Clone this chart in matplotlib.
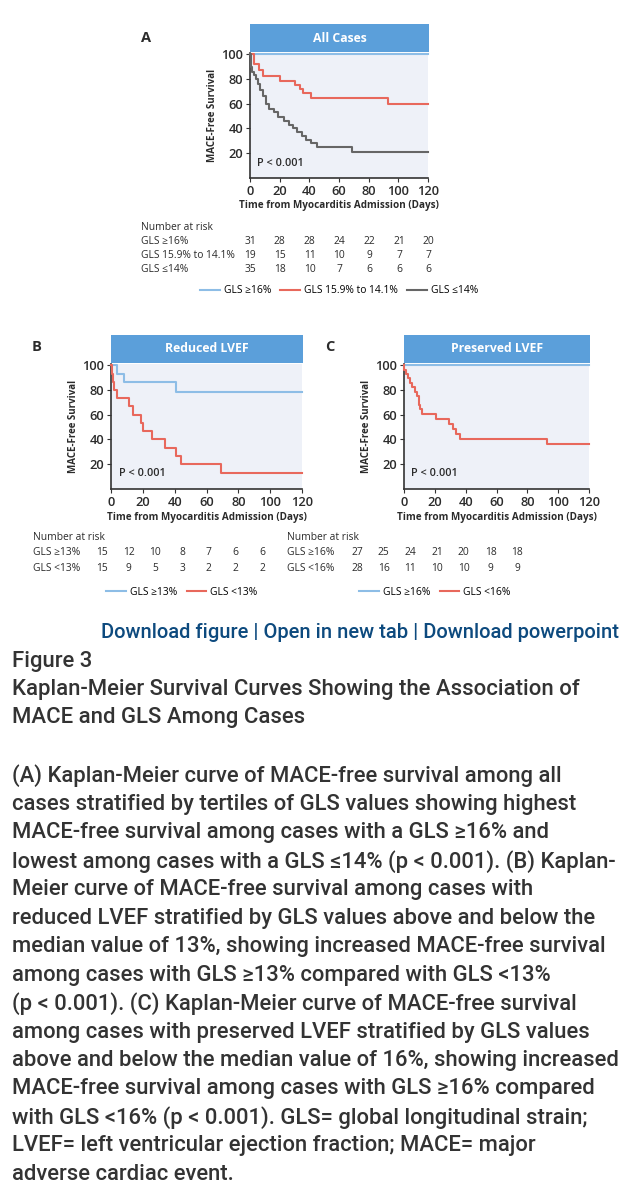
import matplotlib
matplotlib.use("Agg")
import matplotlib.pyplot as plt
from matplotlib.lines import Line2D

# ---- data ----
days_ticks = [0, 20, 40, 60, 80, 100, 120]
surv_ticks = [20, 40, 60, 80, 100]

# panel A: all cases, tertiles of GLS
a_blue_t = []
a_blue_s = []
a_red_t = [3, 6, 9, 20, 30.5, 33.5, 36, 41, 93]
a_red_s = [92, 87, 82.5, 78, 75, 72, 68.5, 65, 60]
a_gray_t = [0.5, 1.5, 2.5, 4, 5.5, 7, 9, 11, 13, 16, 19, 23, 26, 29, 32, 35, 38, 41, 45, 69]
a_gray_s = [90, 86, 83, 80, 76, 71, 66, 60, 56, 53, 49, 46, 43, 40, 37, 34, 31, 28, 25, 21]
a_risk_labels = ["GLS \u226516%", "GLS 15.9% to 14.1%", "GLS \u226414%"]
a_risk = [[31, 28, 28, 24, 22, 21, 20],
          [19, 15, 11, 10, 9, 7, 7],
          [35, 18, 10, 7, 6, 6, 6]]

# panel B: reduced LVEF
b_blue_t = [4, 8, 41]
b_blue_s = [93.3, 86.7, 78]
b_red_t = [0.5, 1, 2, 4, 11, 14, 19, 20, 26, 34, 41, 44, 69]
b_red_s = [93.3, 86.7, 80, 73.3, 66.7, 60, 53.3, 46.7, 40, 33.3, 26.7, 20, 13.3]
b_risk_labels = ["GLS \u226513%", "GLS <13%"]
b_risk = [[15, 12, 10, 8, 7, 6, 6],
          [15, 9, 5, 3, 2, 2, 2]]

# panel C: preserved LVEF
c_blue_t = []
c_blue_s = []
c_red_t = [0.3, 1, 2.5, 4, 5.5, 7, 8.5, 9.5, 10, 10.5, 11.5, 21, 29.5, 31.5, 34, 36, 93]
c_red_s = [96.4, 92.9, 89.3, 85.7, 82.1, 78.6, 75, 71.4, 67.9, 64.3, 60.7, 56.9, 52.8, 48.8, 44.7, 40.7, 36.6]
c_risk_labels = ["GLS \u226516%", "GLS <16%"]
c_risk = [[27, 25, 24, 21, 20, 18, 18],
          [28, 16, 11, 10, 10, 9, 9]]

BLUE = "#8dbde6"
RED = "#e8685c"
GRAY = "#666666"
HEAD = "#5b9fda"
BG = "#eef1f8"
TXT = "#2b2b2b"
FIGFONT = ["Open Sans", "DejaVu Sans"]
WEBFONT = ["Roboto", "DejaVu Sans"]
SMALL = 7.4

W, H = 630, 1200
fig = plt.figure(figsize=(6.3, 12), dpi=100)
fig.patch.set_facecolor("white")


def rect(l, t, r, b):
    return [l / W, 1 - b / H, (r - l) / W, (b - t) / H]


def ftext(x, y, s, **kw):
    fig.text(x / W, 1 - y / H, s, **kw)


def km(ax, t, s, color):
    xs = [0] + t + [120]
    ys = [100] + s + [s[-1] if s else 100]
    ax.step(xs, ys, where="post", color=color, lw=1.5, clip_on=False, zorder=3)


def panel(letter, title, box, curves, xlab_y, letter_xy):
    l, t, r, b = box
    hd = fig.add_axes(rect(l, t - 29, r + 1, t - 1))
    hd.set_facecolor(HEAD)
    hd.set_xticks([]); hd.set_yticks([])
    for sp in hd.spines.values():
        sp.set_visible(False)
    hd.text(0.5, 0.5, title, color="white", fontsize=8.8, fontweight="bold",
            ha="center", va="center", family=FIGFONT, transform=hd.transAxes)

    ax = fig.add_axes(rect(l, t, r, b))
    ax.set_facecolor(BG)
    for tt, ss, cc in curves:
        km(ax, tt, ss, cc)
    ax.set_xlim(0, 120)
    ax.set_ylim(0, 101)
    ax.set_xticks(days_ticks)
    ax.set_yticks(surv_ticks)
    for sp in ["top", "right"]:
        ax.spines[sp].set_visible(False)
    for sp in ["left", "bottom"]:
        ax.spines[sp].set_color("#333333")
        ax.spines[sp].set_linewidth(1.2)
    ax.tick_params(length=3, width=0.8, pad=2, labelsize=9.3, colors="#333333")
    for lab in ax.get_xticklabels() + ax.get_yticklabels():
        lab.set_family(FIGFONT)
        lab.set_weight("semibold")
        lab.set_color(TXT)
    ax.set_ylabel("MACE-Free Survival", fontsize=7, fontweight="bold",
                  family=FIGFONT, color=TXT, labelpad=2)
    ax.text(0.04, 0.12, "P < 0.001", transform=ax.transAxes, fontsize=7.8,
            family=FIGFONT, fontweight="semibold", color=TXT,
            ha="left", va="center")
    ftext((l + r) / 2, xlab_y, "Time from Myocarditis Admission (Days)",
          fontsize=7.1, fontweight="bold", family=FIGFONT, color=TXT,
          ha="center", va="center")
    ftext(letter_xy[0], letter_xy[1], letter, fontsize=10.5, fontweight="bold",
          family=FIGFONT, color=TXT, ha="center", va="center")
    return ax


def risk_table(x_lab, x0, dx, y0, dy, labels, rows):
    ftext(x_lab, y0, "Number at risk", fontsize=SMALL, family=FIGFONT,
          color=TXT, ha="left", va="center")
    for i, (lab, row) in enumerate(zip(labels, rows)):
        y = y0 + dy * (i + 1)
        ftext(x_lab, y, lab, fontsize=SMALL, family=FIGFONT, color=TXT,
              ha="left", va="center")
        for j, v in enumerate(row):
            ftext(x0 + j * dx, y, str(v), fontsize=SMALL, family=FIGFONT,
                  color=TXT, ha="center", va="center")


def legend(cx, cy, labels, colors):
    handles = [Line2D([], [], color=c, lw=1.5) for c in colors]
    fig.legend(handles, labels, loc="center", bbox_to_anchor=(cx / W, 1 - cy / H),
               ncol=len(labels), frameon=False, handlelength=1.9,
               handletextpad=0.4, columnspacing=0.9,
               prop={"family": FIGFONT, "size": SMALL})


# panel A
panel("A", "All Cases", (250, 53, 428, 178),
      [(a_blue_t, a_blue_s, BLUE), (a_red_t, a_red_s, RED), (a_gray_t, a_gray_s, GRAY)],
      205, (146, 38))
risk_table(141, 250, 29.8, 227, 14, a_risk_labels, a_risk)
legend(339, 291, a_risk_labels, [BLUE, RED, GRAY])

# panel B
panel("B", "Reduced LVEF", (111, 364, 302, 489),
      [(b_blue_t, b_blue_s, BLUE), (b_red_t, b_red_s, RED)],
      517, (37, 347))
risk_table(33, 102, 26.7, 537, 15.5, b_risk_labels, b_risk)
legend(182, 592, b_risk_labels, [BLUE, RED])

# panel C
panel("C", "Preserved LVEF", (404, 364, 589, 489),
      [(c_blue_t, c_blue_s, BLUE), (c_red_t, c_red_s, RED)],
      517, (330, 347))
risk_table(287, 357, 26.7, 537, 15.5, c_risk_labels, c_risk)
legend(435, 592, c_risk_labels, [BLUE, RED])

# page text below the figure
ftext(619, 633, "Download figure | Open in new tab | Download powerpoint",
      fontsize=14.5, fontweight="medium", family=WEBFONT, color="#0d4a7e",
      ha="right", va="center")

caption_head = ["Figure 3",
                "Kaplan-Meier Survival Curves Showing the Association of",
                "MACE and GLS Among Cases"]
caption_body = [
    "(A) Kaplan-Meier curve of MACE-free survival among all",
    "cases stratified by tertiles of GLS values showing highest",
    "MACE-free survival among cases with a GLS \u226516% and",
    "lowest among cases with a GLS \u226414% (p < 0.001). (B) Kaplan-",
    "Meier curve of MACE-free survival among cases with",
    "reduced LVEF stratified by GLS values above and below the",
    "median value of 13%, showing increased MACE-free survival",
    "among cases with GLS \u226513% compared with GLS <13%",
    "(p < 0.001). (C) Kaplan-Meier curve of MACE-free survival",
    "among cases with preserved LVEF stratified by GLS values",
    "above and below the median value of 16%, showing increased",
    "MACE-free survival among cases with GLS \u226516% compared",
    "with GLS <16% (p < 0.001). GLS= global longitudinal strain;",
    "LVEF= left ventricular ejection fraction; MACE= major",
    "adverse cardiac event.",
]
for i, line in enumerate(caption_head):
    ftext(12, 661 + 28 * i, line, fontsize=15.9, fontweight="medium",
          family=WEBFONT, color="#333333", ha="left", va="center")
for i, line in enumerate(caption_body):
    ftext(12, 776 + 28.45 * i, line, fontsize=15.8, fontweight="medium",
          family=WEBFONT, color="#333333", ha="left", va="center")

fig.savefig("out.png", dpi=100, facecolor="white")
